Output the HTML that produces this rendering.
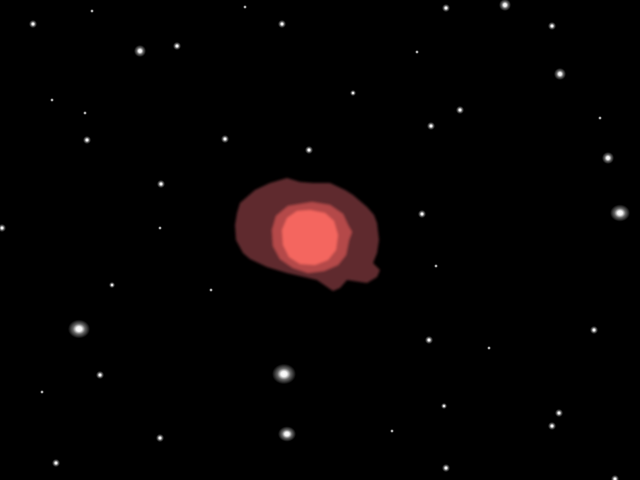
<!DOCTYPE html>
<html><head><meta charset="utf-8"><style>
html,body{margin:0;padding:0;background:#000;width:640px;height:480px;overflow:hidden}
svg{display:block}
</style></head><body>
<svg id="sky" width="640" height="480" viewBox="0 0 640 480" xmlns="http://www.w3.org/2000/svg">
<defs>
<radialGradient id="sg"><stop offset="0" stop-color="#fff" stop-opacity="1"/><stop offset="0.25" stop-color="#fff" stop-opacity="0.95"/><stop offset="0.55" stop-color="#fff" stop-opacity="0.4"/><stop offset="1" stop-color="#fff" stop-opacity="0"/></radialGradient>
<filter id="soft"><feGaussianBlur stdDeviation="1.2"/></filter>
</defs>
<rect width="640" height="480" fill="#000"/>
<g id="nebula" filter="url(#soft)">
<path fill="#5e2a2e" d="M240,203 L255,190 L270,183 L287,178 L300,182 L313,183 L330,183 L345,190 L353,195 L367,207 L374,215 L377,223 L379,240 L377,253 L373,263 L380,270 L377,277 L367,283 L347,280 L340,288 L333,291 L317,280 L300,276 L287,273 L267,267 L250,259 L243,253 L236,240 L235,225 L237,213 Z"/>
<path fill="#b44a4a" d="M312,202 L330,205 L343,214 L348,225 L352,232 L349,240 L346,255 L338,265 L324,271 L308,273 L293,268 L280,259 L273,246 L272,230 L276,216 L288,206 Z"/>
<path fill="#f4665f" d="M310,210 L325,213 L334,221 L338,235 L336,250 L328,260 L315,265 L300,264 L289,257 L283,245 L282,230 L287,218 L297,211 Z"/>
</g>
<g id="stars"></g>
</svg>
<script>
const starX=[33,92,140,177,282,245,446,505,552,560,353,460,431,417,600,608,620,87,225,309,161,2,160,422,52,85,112,211,436,79,429,489,594,284,100,42,444,559,552,287,160,392,56,446,615];
const starY=[24,11,51,46,24,7,8,5,26,74,93,110,126,52,118,158,213,140,139,150,184,228,228,214,100,113,285,290,266,329,340,348,330,374,375,392,406,413,426,434,438,431,463,468,479];
const starR=[4,2,6,4,4,2,4,6,4,6,3,4,4,2,2,6,10,4,4,4,4,4,2,4,2,2,3,2,2,11,4,2,4,12,4,2,3,4,4,9,4,2,4,4,4];
const g=document.getElementById('stars');
for(let i=0;i<starX.length;i++){
  const c=document.createElementNS('http://www.w3.org/2000/svg','ellipse');
  c.setAttribute('cx',starX[i]);c.setAttribute('cy',starY[i]);
  c.setAttribute('rx',starR[i]);c.setAttribute('ry',starR[i]*(starR[i]>8?0.85:1));
  c.setAttribute('fill','url(#sg)');
  
  
  g.appendChild(c);
}
</script>
</body></html>
